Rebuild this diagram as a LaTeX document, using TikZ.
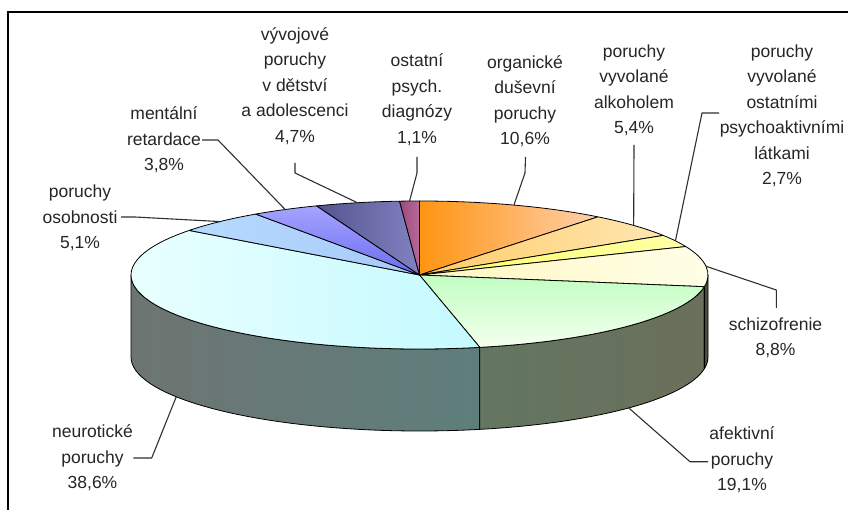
\documentclass[tikz,border=0pt]{standalone}
\usepackage{fontspec}
\setmainfont{Liberation Sans}
\usetikzlibrary{calc}
\definecolor{txt}{HTML}{262626}
\definecolor{ldr}{HTML}{303030}
\definecolor{orgA}{HTML}{FF9412}\definecolor{orgB}{HTML}{FFD0AC}
\definecolor{alkA}{HTML}{FFCC66}\definecolor{alkB}{HTML}{FFE6B4}
\definecolor{psyA}{HTML}{FFFF66}\definecolor{psyB}{HTML}{FFFFA8}
\definecolor{schA}{HTML}{FFF6C0}\definecolor{schB}{HTML}{FFFFE8}
\definecolor{afeA}{HTML}{C2FEC2}\definecolor{afeB}{HTML}{F4FFEE}
\definecolor{neuA}{HTML}{EAFFFF}\definecolor{neuB}{HTML}{C4FAFF}
\definecolor{osoA}{HTML}{B6DAFF}\definecolor{osoB}{HTML}{A6CAF6}
\definecolor{menA}{HTML}{A4A4FF}\definecolor{menB}{HTML}{6C6CF0}
\definecolor{vyvA}{HTML}{54548F}\definecolor{vyvB}{HTML}{8282C2}
\definecolor{ostA}{HTML}{9C4A7C}\definecolor{ostB}{HTML}{B86A9A}
\definecolor{neuSA}{HTML}{6D7572}\definecolor{neuSB}{HTML}{5E7E7C}
\definecolor{afeSA}{HTML}{637660}\definecolor{afeSB}{HTML}{6A705C}
\definecolor{schS}{HTML}{4E4E34}
\begin{document}
\begin{tikzpicture}[x=1pt,y=1pt,
  slice/.style={draw=black, line width=0.8pt, line join=round},
  pr/.style={x radius=288.5pt, y radius=74pt},
  lbl/.style={align=center, font=\fontsize{17.5pt}{25.5pt}\selectfont, text=txt, inner sep=0pt},
  leader/.style={draw=ldr, line width=1.1pt, line join=round}]
\useasboundingbox (0,0) rectangle (848,509);
\fill[white] (0,0) rectangle (848,509);
% frame
\draw[line width=2pt] (870,497) -- (7.5,497) -- (7.5,-20);
\coordinate (C) at (419.5,234);
\coordinate (B) at (419.5,152);
% side walls
\path[slice, left color=neuSA, right color=neuSB]
  ($(C)+(-180:288.5pt and 74pt)$) arc[pr, start angle=-180, end angle=-77.93]
  -- ++(0,-82) arc[pr, start angle=-77.93, end angle=-180] -- cycle;
\path[slice, left color=afeSA, right color=afeSB]
  ($(C)+(-77.93:288.5pt and 74pt)$) arc[pr, start angle=-77.93, end angle=-9.10]
  -- ++(0,-82) arc[pr, start angle=-9.10, end angle=-77.93] -- cycle;
\path[slice, fill=schS]
  ($(C)+(-9.10:288.5pt and 74pt)$) arc[pr, start angle=-9.10, end angle=0]
  -- ++(0,-82) arc[pr, start angle=0, end angle=-9.10] -- cycle;
% top slices
\path[slice, left color=orgA, right color=orgB] (C) -- ++(90:288.5pt and 74pt)
  arc[pr, start angle=90, end angle=51.80] -- cycle;
\path[slice, left color=alkA, right color=alkB] (C) -- ++(51.80:288.5pt and 74pt)
  arc[pr, start angle=51.80, end angle=32.34] -- cycle;
\path[slice, left color=psyA, right color=psyB] (C) -- ++(32.34:288.5pt and 74pt)
  arc[pr, start angle=32.34, end angle=22.61] -- cycle;
\path[slice, left color=schA, right color=schB] (C) -- ++(22.61:288.5pt and 74pt)
  arc[pr, start angle=22.61, end angle=-9.10] -- cycle;
\path[slice, top color=afeA, bottom color=afeB] (C) -- ++(-9.10:288.5pt and 74pt)
  arc[pr, start angle=-9.10, end angle=-77.93] -- cycle;
\path[slice, left color=neuA, right color=neuB] (C) -- ++(-77.93:288.5pt and 74pt)
  arc[pr, start angle=-77.93, end angle=-217.03] -- cycle;
\path[slice, left color=osoA, right color=osoB] (C) -- ++(-217.03:288.5pt and 74pt)
  arc[pr, start angle=-217.03, end angle=-235.41] -- cycle;
\path[slice, top color=menA, bottom color=menB] (C) -- ++(-235.41:288.5pt and 74pt)
  arc[pr, start angle=-235.41, end angle=-249.10] -- cycle;
\path[slice, left color=vyvA, right color=vyvB] (C) -- ++(-249.10:288.5pt and 74pt)
  arc[pr, start angle=-249.10, end angle=-266.04] -- cycle;
\path[slice, left color=ostA, right color=ostB] (C) -- ++(-266.04:288.5pt and 74pt)
  arc[pr, start angle=-266.04, end angle=-270] -- cycle;
% labels
\node[lbl] (lvyv) at (295,509-86) {vývojové\\poruchy\\v dětství\\a adolescenci\\4,7\%};
\node[lbl] (lmen) at (164,509-140) {mentální\\retardace\\3,8\%};
\node[lbl] (loso) at (80,509-218) {poruchy\\osobnosti\\5,1\%};
\node[lbl] (lost) at (417,509-99.5) {ostatní\\psych.\\diagnózy\\1,1\%};
\node[lbl] (lorg) at (525,509-101) {organické\\duševní\\poruchy\\10,6\%};
\node[lbl] (lalk) at (634,509-90.5) {poruchy\\vyvolané\\alkoholem\\5,4\%};
\node[lbl] (lpsy) at (782,509-116) {poruchy\\vyvolané\\ostatními\\psychoaktivními\\látkami\\2,7\%};
\node[lbl] (lsch) at (775.5,509-338) {schizofrenie\\8,8\%};
\node[lbl] (lafe) at (742,509-460) {afektivní\\poruchy\\19,1\%};
\node[lbl] (lneu) at (92.5,509-458) {neurotické\\poruchy\\38,6\%};
% rim points
\coordinate (rorg) at ($(C)+(70.90:288.5pt and 74pt)$);
\coordinate (ralk) at ($(C)+(42.07:288.5pt and 74pt)$);
\coordinate (rpsy) at ($(C)+(27.48:288.5pt and 74pt)$);
\coordinate (rsch) at ($(C)+(6.76:288.5pt and 74pt)$);
\coordinate (rafe) at ($(B)+(-43.51:288.5pt and 74pt)$);
\coordinate (rneu) at ($(B)+(-147.48:288.5pt and 74pt)$);
\coordinate (roso) at ($(C)+(133.78:288.5pt and 74pt)$);
\coordinate (rmen) at ($(C)+(117.75:288.5pt and 74pt)$);
\coordinate (rvyv) at ($(C)+(102.43:288.5pt and 74pt)$);
\coordinate (rost) at ($(C)+(91.98:288.5pt and 74pt)$);
% leader start / bend points
\coordinate (svyv) at (295,509-163); \coordinate (bvyv) at (295,509-173);
\coordinate (smen) at (202,509-140); \coordinate (bmen) at (218,509-140);
\coordinate (soso) at (121,509-217); \coordinate (boso) at (135,509-217);
\coordinate (sost) at (417,509-157); \coordinate (bost) at (417,509-173);
\coordinate (sorg) at (525.5,509-157); \coordinate (borg) at (525,509-173);
\coordinate (salk) at (634,509-145);
\coordinate (spsy) at (719,509-113); \coordinate (bpsy) at (702,509-113);
\coordinate (ssch) at (776.3,509-308); \coordinate (bsch) at (776.3,509-290);
\coordinate (safe) at (708,509-461.7); \coordinate (bafe) at (690,509-461.7);
\coordinate (sneu) at (133.3,509-458); \coordinate (bneu) at (151.7,509-458);
% leaders
\draw[leader] (svyv) -- (bvyv) -- (rvyv);
\draw[leader] (smen) -- (bmen) -- (rmen);
\draw[leader] (soso) -- (boso) -- (roso);
\draw[leader] (sost) -- (bost) -- (rost);
\draw[leader] (sorg) -- (borg) -- (rorg);
\draw[leader] (salk) -- (ralk);
\draw[leader] (spsy) -- (bpsy) -- (rpsy);
\draw[leader] (ssch) -- (bsch) -- (rsch);
\draw[leader] (safe) -- (bafe) -- (rafe);
\draw[leader] (sneu) -- (bneu) -- (rneu);
\end{tikzpicture}
\end{document}
